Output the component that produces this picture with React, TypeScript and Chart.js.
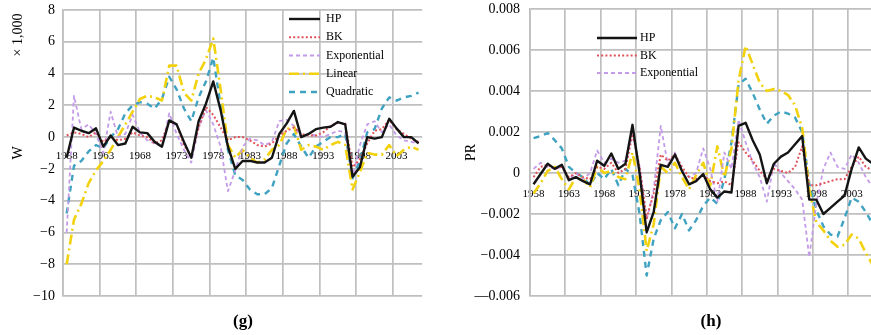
import { useEffect, useRef } from 'react';
import { Chart, registerables } from 'chart.js';

Chart.register(...registerables);

const YEARS = [
  '1958', '1959', '1960', '1961', '1962', '1963', '1964', '1965', '1966', '1967',
  '1968', '1969', '1970', '1971', '1972', '1973', '1974', '1975', '1976', '1977',
  '1978', '1979', '1980', '1981', '1982', '1983', '1984', '1985', '1986', '1987',
  '1988', '1989', '1990', '1991', '1992', '1993', '1994', '1995', '1996', '1997',
  '1998', '1999', '2000', '2001', '2002', '2003', '2004', '2005', '2006',
];

// Panel (g): W, in thousands
const W_HP = [-1.3, 0.6, 0.4, 0.25, 0.55, -0.6, 0.1, -0.5, -0.4, 0.65, 0.3, 0.25, -0.3, -0.6, 1.05, 0.8, -0.3, -1.3, 1.0, 2.1, 3.5, 1.7, -0.6, -2.0, -1.5, -1.5, -1.6, -1.6, -1.3, 0.2, 0.85, 1.65, 0.0, 0.2, 0.5, 0.6, 0.65, 0.95, 0.8, -2.5, -1.9, 0.0, -0.1, 0.0, 1.15, 0.55, 0.0, 0.0, -0.4];
const W_BK = [0.1, 0.3, 0.2, 0.0, 0.3, -0.3, 0.0, -0.2, -0.1, 0.3, 0.1, 0.0, -0.4, -0.2, 1.0, 0.8, -0.5, -1.2, 0.6, 1.9, 1.4, 0.6, -0.2, 0.0, 0.0, -0.2, -0.5, -0.6, -0.4, 0.1, 0.4, 0.6, 0.2, 0.1, 0.1, 0.3, 0.7, 0.9, 0.85, -1.9, -1.4, -0.4, 0.4, 0.5, 1.1, 0.5, 0.2, -0.1, -0.3];
const W_EXP = [-6.0, 2.6, 0.5, 0.8, 0.2, -1.0, 1.6, 0.0, 0.2, 1.4, 0.3, -0.2, -0.4, -0.6, 1.5, 0.2, -0.8, -1.6, 0.6, 1.7, 0.8, -0.6, -3.4, -2.1, -0.6, -0.1, -0.2, -0.5, -0.3, 1.0, 1.1, 0.7, 0.0, 0.2, 0.1, 0.0, 0.2, 0.4, 0.3, -2.5, -0.5, 0.8, 1.0, 0.3, 0.8, 0.1, -0.2, -0.3, -0.4];
const W_LIN = [-8.0, -5.2, -4.2, -2.9, -2.1, -1.5, -0.8, 0.0, 0.8, 1.6, 2.4, 2.6, 2.5, 2.3, 4.5, 4.5, 2.8, 2.3, 4.0, 4.9, 6.2, 3.0, -0.5, -1.3, -0.8, -1.3, -1.6, -1.4, -0.8, -0.5, 0.5, 0.7, -0.8, -0.5, -0.6, -0.8, -0.5, -0.3, -0.5, -3.3, -2.2, -1.0, -1.1, -1.1, -0.5, -1.2, -0.8, -0.6, -0.8];
const W_QUAD = [-4.8, -1.8, -1.5, -0.9, -0.5, -0.7, 0.0, 0.5, 1.5, 2.0, 2.2, 2.1, 1.8, 2.4, 3.8, 3.0, 1.8, 1.0, 2.5, 3.5, 5.0, 2.0, -0.8, -2.4, -2.7, -3.3, -3.6, -3.6, -3.2, -1.8, -0.4, 0.2, -0.6, -1.3, -0.6, -0.3, 0.0, 0.0, 0.2, -2.6, -1.5, 0.3, 0.5, 1.8, 2.5, 2.3, 2.5, 2.6, 2.8];

// Panel (h): PR
const PR_HP = [-0.55e-3, -0.05e-3, 0.45e-3, 0.2e-3, 0.4e-3, -0.35e-3, -0.2e-3, -0.4e-3, -0.55e-3, 0.6e-3, 0.35e-3, 0.95e-3, 0.2e-3, 0.45e-3, 2.35e-3, 0.0, -2.9e-3, -1.9e-3, 0.4e-3, 0.3e-3, 0.9e-3, 0.1e-3, -0.55e-3, -0.4e-3, -0.05e-3, -0.8e-3, -1.2e-3, -0.9e-3, -0.95e-3, 2.3e-3, 2.45e-3, 1.6e-3, 0.9e-3, -0.5e-3, 0.45e-3, 0.8e-3, 1.0e-3, 1.4e-3, 1.8e-3, -1.3e-3, -1.3e-3, -2.0e-3, -1.7e-3, -1.4e-3, -1.1e-3, 0.2e-3, 1.25e-3, 0.7e-3, 0.45e-3];
const PR_BK = [-0.2e-3, 0.3e-3, 0.4e-3, 0.2e-3, 0.3e-3, -0.2e-3, 0.0, -0.2e-3, -0.3e-3, 0.3e-3, 0.2e-3, 0.5e-3, 0.0, 0.2e-3, 1.9e-3, 0.3e-3, -2.2e-3, -1.0e-3, 0.9e-3, 0.6e-3, 0.9e-3, 0.3e-3, -0.2e-3, -0.3e-3, -0.1e-3, -0.4e-3, -0.5e-3, -0.4e-3, -0.6e-3, 1.5e-3, 1.0e-3, 0.6e-3, 0.1e-3, -0.3e-3, 0.2e-3, 0.1e-3, 0.0, 0.3e-3, 1.3e-3, -0.6e-3, -0.6e-3, -0.5e-3, -0.4e-3, -0.3e-3, -0.3e-3, 0.3e-3, 0.8e-3, 0.3e-3, 0.1e-3];
const PR_EXP = [0.2e-3, 0.5e-3, 0.3e-3, 0.2e-3, 0.3e-3, -0.3e-3, 0.0, -0.3e-3, 0.0, 1.1e-3, 0.5e-3, 0.7e-3, 0.5e-3, 0.6e-3, 1.9e-3, 0.3e-3, -2.3e-3, -0.8e-3, 2.3e-3, 0.4e-3, 1.0e-3, 0.1e-3, -0.2e-3, 0.0, 1.2e-3, 0.2e-3, -1.4e-3, 1.0e-3, 0.2e-3, 2.6e-3, 1.5e-3, 0.5e-3, -0.2e-3, -1.4e-3, 0.5e-3, 0.0, -0.4e-3, -0.8e-3, -1.3e-3, -4.1e-3, -1.5e-3, 0.2e-3, 1.0e-3, 0.3e-3, 0.2e-3, 0.9e-3, 0.5e-3, -0.2e-3, -0.7e-3];
const PR_LIN = [-1.0e-3, -0.5e-3, 0.1e-3, 0.3e-3, -0.3e-3, -0.8e-3, -0.2e-3, -0.3e-3, -0.7e-3, 0.3e-3, 0.0, 0.1e-3, -0.2e-3, -0.3e-3, 1.0e-3, -0.8e-3, -3.8e-3, -2.5e-3, 0.3e-3, 0.0, 0.5e-3, -0.2e-3, -0.8e-3, -0.1e-3, 0.5e-3, -0.6e-3, 1.3e-3, -0.2e-3, 1.2e-3, 4.5e-3, 6.2e-3, 5.3e-3, 4.4e-3, 4.0e-3, 4.1e-3, 4.0e-3, 3.8e-3, 3.3e-3, 2.2e-3, -0.8e-3, -2.4e-3, -2.8e-3, -3.3e-3, -3.6e-3, -3.5e-3, -3.0e-3, -3.2e-3, -3.9e-3, -4.5e-3];
const PR_QUAD = [1.7e-3, 1.8e-3, 1.95e-3, 1.6e-3, 1.2e-3, 0.3e-3, 0.0, -0.2e-3, -0.6e-3, 0.0, -0.3e-3, 0.2e-3, -0.6e-3, 0.2e-3, -0.1e-3, -2.0e-3, -5.0e-3, -3.2e-3, -2.3e-3, -1.9e-3, -2.7e-3, -2.0e-3, -2.8e-3, -2.3e-3, -1.6e-3, -1.2e-3, -1.5e-3, -0.3e-3, 1.5e-3, 4.3e-3, 4.6e-3, 3.9e-3, 3.1e-3, 2.4e-3, 2.8e-3, 3.0e-3, 2.9e-3, 2.7e-3, 2.0e-3, -0.5e-3, -1.8e-3, -2.6e-3, -3.0e-3, -3.1e-3, -2.2e-3, -1.2e-3, -1.4e-3, -1.9e-3, -2.5e-3];

const W_Y_LABELS = ['−10', '−8', '−6', '−4', '−2', '0', '2', '4', '6', '8'];
const PR_Y_LABELS = ['—0.006', '−0.004', '−0.002', '0', '0.002', '0.004', '0.006', '0.008'];

const FONT = "'Liberation Serif', 'Times New Roman', serif";
const GRID = '#bfbfbf';

const STYLES: Record<string, { color: string; width: number; dash: number[] }> = {
  HP: { color: '#141414', width: 2.4, dash: [] },
  BK: { color: '#e0525a', width: 2, dash: [2, 2.2] },
  Exponential: { color: '#c49be8', width: 1.8, dash: [4, 3] },
  Linear: { color: '#f2d20f', width: 2.6, dash: [10, 4, 2, 4] },
  Quadratic: { color: '#3fa2c0', width: 2.4, dash: [6, 5] },
};

type PanelCfg = {
  series: [string, number[]][];
  yMin: number; yMax: number; step: number; yLabels: string[];
  yTitle: string; titlePad: number; yWidth: number; tickLen: number;
  pad: { top: number; right: number; bottom: number };
  xPad: number;
  legend: string[]; legendLeft: number; legendTop: number; legendRow: number; legendLen: number; legendGap: number;
  caption: string; captionX: number; captionY: number;
  unit?: string; unitX?: number; unitY?: number;
};

const G_CFG: PanelCfg = {
  series: [['HP', W_HP], ['BK', W_BK], ['Exponential', W_EXP], ['Linear', W_LIN], ['Quadratic', W_QUAD]],
  yMin: -10, yMax: 8, step: 2, yLabels: W_Y_LABELS,
  yTitle: 'W', titlePad: 9.6, yWidth: 63, tickLen: 8,
  pad: { top: 10, right: 17.8, bottom: 39 },
  xPad: 12.5,
  legend: ['HP', 'BK', 'Exponential', 'Linear', 'Quadratic'],
  legendLeft: 226, legendTop: 9, legendRow: 18.25, legendLen: 31, legendGap: 6,
  caption: '(g)', captionX: 180, captionY: 322,
  unit: '× 1,000', unitX: 18, unitY: 25,
};

const H_CFG: PanelCfg = {
  series: [['HP', PR_HP], ['BK', PR_BK], ['Exponential', PR_EXP], ['Linear', PR_LIN], ['Quadratic', PR_QUAD]],
  yMin: -0.006, yMax: 0.008, step: 0.002, yLabels: PR_Y_LABELS,
  yTitle: 'PR', titlePad: 22.6, yWidth: 90, tickLen: 10,
  pad: { top: 9, right: 13.6, bottom: 39 },
  xPad: 15,
  legend: ['HP', 'BK', 'Exponential'],
  legendLeft: 67, legendTop: 29, legendRow: 17.5, legendLen: 40, legendGap: 3,
  caption: '(h)', captionX: 181, captionY: 322,
};

function decorPlugin(cfg: PanelCfg) {
  return {
    id: 'decor',
    afterDraw(chart: any) {
      const { ctx, chartArea } = chart;
      ctx.save();
      cfg.legend.forEach((name, k) => {
        const st = STYLES[name];
        const y = chartArea.top + cfg.legendTop + k * cfg.legendRow;
        const x0 = chartArea.left + cfg.legendLeft;
        ctx.beginPath();
        ctx.setLineDash(st.dash);
        ctx.strokeStyle = st.color;
        ctx.lineWidth = st.width;
        ctx.moveTo(x0, y);
        ctx.lineTo(x0 + cfg.legendLen, y);
        ctx.stroke();
        ctx.setLineDash([]);
        ctx.fillStyle = '#000';
        ctx.font = `12px ${FONT}`;
        ctx.textBaseline = 'middle';
        ctx.textAlign = 'left';
        ctx.fillText(name, x0 + cfg.legendLen + cfg.legendGap, y);
      });
      ctx.fillStyle = '#000';
      ctx.font = `bold 17px ${FONT}`;
      ctx.textAlign = 'center';
      ctx.textBaseline = 'middle';
      ctx.fillText(cfg.caption, chartArea.left + cfg.captionX, cfg.captionY);
      if (cfg.unit) {
        ctx.translate(cfg.unitX, chartArea.top + (cfg.unitY as number));
        ctx.rotate(-Math.PI / 2);
        ctx.font = `14px ${FONT}`;
        ctx.fillText(cfg.unit, 0, 0);
      }
      ctx.restore();
    },
  };
}

function buildConfig(cfg: PanelCfg): any {
  return {
    type: 'line',
    data: {
      labels: YEARS,
      datasets: cfg.series.map(([name, values]) => ({
        label: name,
        data: values,
        borderColor: STYLES[name].color,
        borderWidth: STYLES[name].width,
        borderDash: STYLES[name].dash,
        pointRadius: 0,
        fill: false,
        tension: 0,
        borderJoinStyle: 'round',
      })),
    },
    options: {
      responsive: false,
      animation: false,
      devicePixelRatio: 1,
      layout: { padding: { left: 0, top: cfg.pad.top, right: cfg.pad.right, bottom: cfg.pad.bottom } },
      plugins: { legend: { display: false }, tooltip: { enabled: false }, title: { display: false } },
      scales: {
        x: {
          type: 'category',
          position: { y: 0 },
          offset: true,
          grid: {
            offset: true,
            drawTicks: false,
            lineWidth: 1.7,
            color: (c: any) => (typeof c.index === 'number' && c.index % 5 === 0 ? GRID : 'rgba(0,0,0,0)'),
          },
          border: { display: false },
          ticks: {
            autoSkip: false,
            maxRotation: 0,
            minRotation: 0,
            padding: cfg.xPad,
            color: '#000',
            font: { family: FONT, size: 11 },
            callback: (_v: any, i: number) => (i % 5 === 0 ? YEARS[i] : ''),
          },
        },
        y: {
          type: 'linear',
          min: cfg.yMin,
          max: cfg.yMax,
          afterFit: (s: any) => { s.width = cfg.yWidth; },
          grid: { color: GRID, lineWidth: 1.7, drawTicks: true, tickLength: cfg.tickLen, tickColor: 'rgba(0,0,0,0)' },
          border: { display: true, color: GRID, width: 1.7 },
          ticks: {
            stepSize: cfg.step,
            padding: 0,
            color: '#000',
            font: { family: FONT, size: 14 },
            callback: (v: number) => {
              const i = Math.round((v - cfg.yMin) / cfg.step);
              return cfg.yLabels[i] ?? '';
            },
          },
          title: {
            display: true,
            text: cfg.yTitle,
            color: '#000',
            font: { family: FONT, size: 14 },
            padding: { top: cfg.titlePad, bottom: 0 },
          },
        },
      },
    },
    plugins: [decorPlugin(cfg)],
  };
}

export default function App() {
  const gRef = useRef<HTMLCanvasElement>(null);
  const hRef = useRef<HTMLCanvasElement>(null);
  useEffect(() => {
    const c1 = new Chart(gRef.current as HTMLCanvasElement, buildConfig(G_CFG));
    const c2 = new Chart(hRef.current as HTMLCanvasElement, buildConfig(H_CFG));
    return () => {
      c1.destroy();
      c2.destroy();
    };
  }, []);
  return (
    <div style={{ position: 'absolute', left: 0, top: 0, width: 871, height: 335, overflow: 'hidden', background: '#fff' }}>
      <canvas ref={gRef} width={440} height={335} style={{ position: 'absolute', left: 0, top: 0, width: 440, height: 335 }} />
      <canvas ref={hRef} width={450} height={335} style={{ position: 'absolute', left: 440, top: 0, width: 450, height: 335 }} />
    </div>
  );
}
